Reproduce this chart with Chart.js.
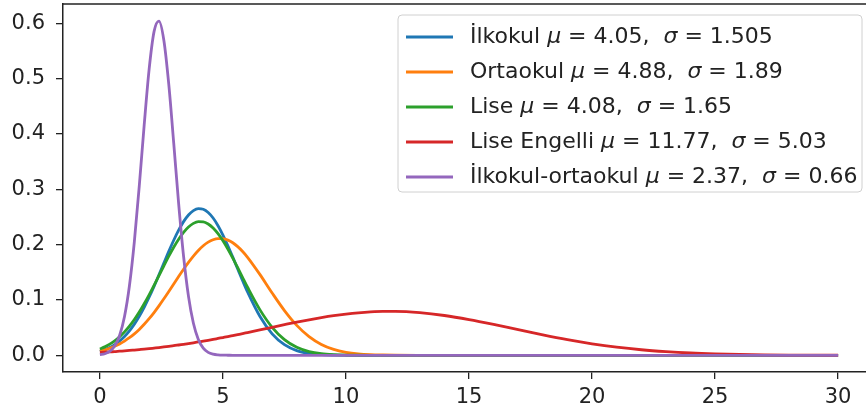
<!DOCTYPE html>
<html>
<head>
<meta charset="utf-8">
<script src="https://cdn.jsdelivr.net/npm/chart.js"></script>
<style>
  html, body { margin: 0; padding: 0; background: #fff; }
  #wrap { width: 866px; height: 412px; overflow: hidden; position: relative; }
  #dist { position: absolute; left: 0; top: 0; }
</style>
</head>
<body>
<div id="wrap"><canvas id="dist" width="880" height="412"></canvas></div>
<script>
let xs = [0, 0.2, 0.4, 0.6, 0.8, 1, 1.2, 1.4, 1.6, 1.8, 2, 2.2, 2.4, 2.6, 2.8, 3, 3.2, 3.4, 3.6, 3.8, 4, 4.2, 4.4, 4.6, 4.8, 5, 5.2, 5.4, 5.6, 5.8, 6,
    6.5, 7, 7.5, 8, 8.5, 9, 9.5, 10, 10.5, 11, 11.5, 12,
    13, 14, 15, 16, 17, 18, 19, 20, 21, 22, 23, 24, 25, 26, 27, 28, 29, 30]

let ilkokul = [0.0071, 0.0101, 0.0140, 0.0192, 0.0258, 0.0340, 0.0441, 0.0563, 0.0705, 0.0867, 0.1049, 0.1245, 0.1454, 0.1667, 0.1878, 0.2078, 0.2260, 0.2415, 0.2535, 0.2615, 0.2650, 0.2638, 0.2580, 0.2480, 0.2341, 0.2172, 0.1980, 0.1773, 0.1560, 0.1348, 0.1145,
    0.0705, 0.0388, 0.0192, 0.0085, 0.0034, 0.0012, 0.0004, 0.0001, 0, 0, 0, 0,
    0, 0, 0, 0, 0, 0, 0, 0, 0, 0, 0, 0, 0, 0, 0, 0, 0, 0]

let ortaokul = [0.0075, 0.0098, 0.0127, 0.0163, 0.0205, 0.0257, 0.0317, 0.0388, 0.0468, 0.0560, 0.0661, 0.0772, 0.0893, 0.1020, 0.1152, 0.1287, 0.1422, 0.1554, 0.1678, 0.1793, 0.1894, 0.1979, 0.2044, 0.2088, 0.2109, 0.2107, 0.2081, 0.2033, 0.1963, 0.1875, 0.1771,
    0.1462, 0.1125, 0.0808, 0.0540, 0.0337, 0.0196, 0.0106, 0.0054, 0.0025, 0.0011, 0.0005, 0.0002,
    0, 0, 0, 0, 0, 0, 0, 0, 0, 0, 0, 0, 0, 0, 0, 0, 0, 0]

let lise = [0.0114, 0.0152, 0.0201, 0.0262, 0.0335, 0.0423, 0.0527, 0.0647, 0.0781, 0.0931, 0.1092, 0.1263, 0.1440, 0.1617, 0.1790, 0.1952, 0.2097, 0.2221, 0.2318, 0.2383, 0.2415, 0.2412, 0.2373, 0.2301, 0.2198, 0.2070, 0.1920, 0.1756, 0.1582, 0.1404, 0.1229,
    0.0825, 0.0505, 0.0282, 0.0144, 0.0067, 0.0028, 0.0011, 0.0004, 0.0001, 0, 0, 0,
    0, 0, 0, 0, 0, 0, 0, 0, 0, 0, 0, 0, 0, 0, 0, 0, 0, 0]

let liseEngelli = [0.0051, 0.0056, 0.0062, 0.0067, 0.0074, 0.0080, 0.0087, 0.0095, 0.0103, 0.0111, 0.0120, 0.0130, 0.0140, 0.0151, 0.0162, 0.0173, 0.0186, 0.0199, 0.0212, 0.0226, 0.0241, 0.0256, 0.0271, 0.0287, 0.0304, 0.0321, 0.0338, 0.0356, 0.0374, 0.0392, 0.0411,
    0.0458, 0.0506, 0.0553, 0.0599, 0.0642, 0.0681, 0.0716, 0.0745, 0.0768, 0.0784, 0.0792, 0.0792,
    0.0770, 0.0719, 0.0645, 0.0557, 0.0462, 0.0368, 0.0282, 0.0208, 0.0147, 0.0100, 0.0066, 0.0041, 0.0025, 0.0015, 0.0008, 0.0004, 0.0002, 0.0001]

let ilkOrta = [0.0010, 0.0027, 0.0070, 0.0166, 0.0357, 0.0701, 0.1256, 0.2053, 0.3061, 0.4163, 0.5166, 0.5848, 0.6039, 0.5689, 0.4889, 0.3833, 0.2741, 0.1789, 0.1065, 0.0578, 0.0286, 0.0129, 0.0053, 0.0020, 0.0007, 0.0002, 0.0001, 0, 0, 0, 0,
    0, 0, 0, 0, 0, 0, 0, 0, 0, 0, 0, 0,
    0, 0, 0, 0, 0, 0, 0, 0, 0, 0, 0, 0, 0, 0, 0, 0, 0, 0]

let names = ['İlkokul', 'Ortaokul', 'Lise', 'Lise Engelli', 'İlkokul-ortaokul']
let mus = ['4.05', '4.88', '4.08', '11.77', '2.37']
let sigmas = ['1.505', '1.89', '1.65', '5.03', '0.66']
let colors = ['#1f77b4', '#ff7f0e', '#2ca02c', '#d62728', '#9467bd']
let series = [ilkokul, ortaokul, lise, liseEngelli, ilkOrta]

let xTicks = [0, 5, 10, 15, 20, 25, 30]
let yTicks = [0, 0.1, 0.2, 0.3, 0.4, 0.5, 0.6]

let textColor = '#222'
let font = '"DejaVu Sans", sans-serif'

// top spine + legend with italic mu/sigma like mathtext
let decor = {
    id: 'decor',
    afterDraw(chart) {
        let ctx = chart.ctx
        let area = chart.chartArea
        ctx.save()
        ctx.strokeStyle = textColor
        ctx.lineWidth = 1.5
        ctx.beginPath()
        ctx.moveTo(area.left, area.top)
        ctx.lineTo(chart.width, area.top)
        ctx.stroke()

        let bx = 398, by = 15, bw = 464, bh = 177, r = 4
        ctx.beginPath()
        ctx.roundRect(bx, by, bw, bh, r)
        ctx.fillStyle = 'rgba(255,255,255,0.8)'
        ctx.fill()
        ctx.strokeStyle = '#d0d0d0'
        ctx.lineWidth = 1
        ctx.stroke()

        ctx.textBaseline = 'middle'
        for (let i = 0; i < names.length; i++) {
            let y = 37 + i * 35
            ctx.strokeStyle = colors[i]
            ctx.lineWidth = 2.8
            ctx.beginPath()
            ctx.moveTo(406, y)
            ctx.lineTo(453, y)
            ctx.stroke()

            let parts = [
                [names[i] + ' ', false],
                ['μ', true],
                [' = ' + mus[i] + ',  ', false],
                ['σ', true],
                [' = ' + sigmas[i], false]
            ]
            let x = 470
            ctx.fillStyle = textColor
            for (let p of parts) {
                ctx.font = (p[1] ? 'italic ' : '') + '22px ' + font
                ctx.fillText(p[0], x, y)
                x += ctx.measureText(p[0]).width
            }
        }
        ctx.restore()
    }
}

let datasets = series.map((vals, i) => ({
    label: names[i],
    data: xs.map((x, j) => ({ x: x, y: vals[j] })),
    borderColor: colors[i],
    borderWidth: 2.8,
    pointRadius: 0,
    fill: false,
    cubicInterpolationMode: 'monotone',
    order: series.length - i
}))

let chart = new Chart(document.getElementById('dist'), {
    type: 'line',
    data: { datasets: datasets },
    options: {
        responsive: false,
        animation: false,
        layout: { padding: { top: 4, right: 5, left: 0, bottom: 0 } },
        plugins: {
            legend: { display: false },
            tooltip: { enabled: false }
        },
        scales: {
            x: {
                type: 'linear',
                min: -1.5,
                max: 31.5,
                afterBuildTicks: s => { s.ticks = xTicks.map(v => ({ value: v })) },
                afterFit: s => { s.height = 40; s.paddingLeft = 0; s.paddingRight = 0 },
                grid: { display: true, drawOnChartArea: false, tickLength: 7, color: textColor, lineWidth: 1.3 },
                border: { display: true, color: textColor, width: 1.5 },
                ticks: { color: textColor, font: { family: font, size: 21 }, padding: 6, maxRotation: 0 }
            },
            y: {
                min: -0.0302,
                max: 0.6347,
                afterBuildTicks: s => { s.ticks = yTicks.map(v => ({ value: v })) },
                afterFit: s => { s.width = 63; s.paddingTop = 0; s.paddingBottom = 0 },
                grid: { display: true, drawOnChartArea: false, tickLength: 7, color: textColor, lineWidth: 1.3 },
                border: { display: true, color: textColor, width: 1.5 },
                ticks: { color: textColor, font: { family: font, size: 21 }, padding: 11, callback: v => v.toFixed(1) }
            }
        }
    },
    plugins: [decor]
})
</script>
</body>
</html>
